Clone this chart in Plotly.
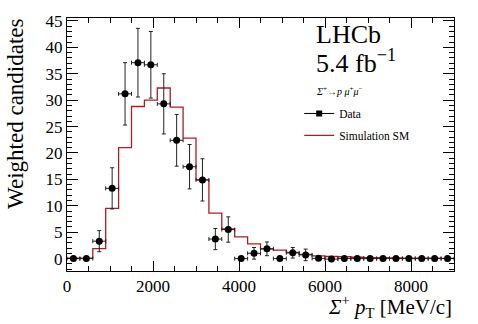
import plotly.graph_objects as go

# ---- data ----
bin_width = 300
bin_edges = list(range(0, 9001, 300))
bin_centers = [e + bin_width / 2 for e in bin_edges[:-1]]

data_values = [0.0, 0.0, 3.3, 13.3, 31.2, 37.1, 36.7, 29.3, 22.4, 17.4,
               14.9, 3.7, 5.5, 0.0, 1.0, 1.85, 0.0, 1.1, 0.7, 0.05,
               -0.1, 0.0, 0.0, 0.0, 0.0, 0.0, 0.0, 0.0, 0.0, 0.0]
data_errors = [0.0, 0.0, 2.0, 3.9, 5.9, 6.5, 6.3, 5.7, 4.9, 4.2,
               4.0, 2.0, 2.4, 0.0, 1.1, 1.3, 0.0, 1.0, 1.1, 0.0,
               0.0, 0.0, 0.0, 0.0, 0.0, 0.0, 0.0, 0.0, 0.0, 0.0]
sim_values = [0.1, 0.1, 1.9, 9.5, 21.0, 28.8, 30.0, 32.3, 28.7, 22.8,
              14.9, 8.6, 5.6, 4.1, 2.8, 1.85, 1.6, 1.15, 0.8, 0.5,
              0.4, 0.35, 0.25, 0.2, 0.2, 0.15, 0.1, 0.1, 0.1, 0.05]

x_ticks = [0, 2000, 4000, 6000, 8000]
y_ticks = [0, 5, 10, 15, 20, 25, 30, 35, 40, 45]

serif = "Liberation Serif"
red = "#b01c24"

fig = go.Figure()

# simulation histogram as step line
step_x = bin_edges[:-1] + [bin_edges[-1]]
step_y = sim_values + [sim_values[-1]]
fig.add_trace(go.Scatter(
    x=step_x, y=step_y, mode="lines", line=dict(shape="hv", color=red, width=1.3),
    showlegend=False, hoverinfo="skip"))

# data points
fig.add_trace(go.Scatter(
    x=bin_centers, y=data_values, mode="markers",
    marker=dict(symbol="circle", size=7, color="black"),
    error_y=dict(type="data", array=data_errors, visible=True, color="#222", thickness=1, width=2),
    error_x=dict(type="constant", value=bin_width / 2, visible=True, color="#222", thickness=1, width=2),
    showlegend=False))

# legend entries
fig.add_trace(go.Scatter(
    x=[None], y=[None], mode="lines+markers", name="Data",
    line=dict(color="black", width=1), marker=dict(symbol="square", size=6, color="black"),
    legendgroup="a"))
fig.add_trace(go.Scatter(
    x=[None], y=[None], mode="lines", name="Simulation SM",
    line=dict(color=red, width=1.3), legendgroup="b"))

fig.update_layout(
    width=478, height=324,
    margin=dict(l=67, r=24, t=16, b=53),
    paper_bgcolor="white", plot_bgcolor="white",
    font=dict(family=serif, color="black"),
    showlegend=True,
    legend=dict(x=0.60, y=0.68, xanchor="left", yanchor="top",
                font=dict(family=serif, size=11.5), bgcolor="rgba(0,0,0,0)",
                traceorder="grouped", tracegroupgap=3, itemwidth=30),
    xaxis=dict(range=[0, 9000], tickvals=x_ticks, ticktext=[str(t) for t in x_ticks],
               ticks="inside", ticklen=10, tickcolor="black", tickwidth=1,
               minor=dict(ticks="inside", dtick=500, ticklen=5, tickcolor="black"),
               showline=True, linecolor="black", linewidth=1, mirror="ticks",
               showgrid=False, zeroline=False,
               tickfont=dict(family=serif, size=17)),
    yaxis=dict(range=[-2.35, 45.56], tickvals=y_ticks, ticktext=[str(t) for t in y_ticks],
               ticks="inside", ticklen=11, tickcolor="black", tickwidth=1,
               minor=dict(ticks="inside", dtick=1, ticklen=5, tickcolor="black"),
               showline=True, linecolor="black", linewidth=1, mirror="ticks",
               showgrid=False, zeroline=False,
               tickfont=dict(family=serif, size=17)),
)

fig.add_annotation(text="Weighted candidates", xref="paper", yref="paper",
                   x=-0.135, y=0.62, xanchor="center", yanchor="middle", textangle=-90,
                   showarrow=False, font=dict(family=serif, size=23))
fig.add_annotation(text="<i>Σ</i><sup>+</sup> <i>p</i><sub>T</sub> [MeV/c]", xref="paper", yref="paper",
                   x=1.0, y=-0.074, xanchor="right", yanchor="top",
                   showarrow=False, font=dict(family=serif, size=21))
fig.add_annotation(text="LHCb", xref="paper", yref="paper",
                   x=0.638, y=0.935, xanchor="left", yanchor="middle",
                   showarrow=False, font=dict(family=serif, size=26))
fig.add_annotation(text="5.4 fb<sup>−1</sup>", xref="paper", yref="paper",
                   x=0.638, y=0.828, xanchor="left", yanchor="middle",
                   showarrow=False, font=dict(family=serif, size=26))
fig.add_annotation(text="<i>Σ</i><sup>+</sup>→<i>p μ</i><sup>+</sup><i>μ</i><sup>−</sup>", xref="paper", yref="paper",
                   x=0.638, y=0.712, xanchor="left", yanchor="middle",
                   showarrow=False, font=dict(family=serif, size=10))

fig.write_html("out.html", config={"displayModeBar": False},
               post_script="document.body.style.margin='0px';document.body.style.overflow='hidden';")
